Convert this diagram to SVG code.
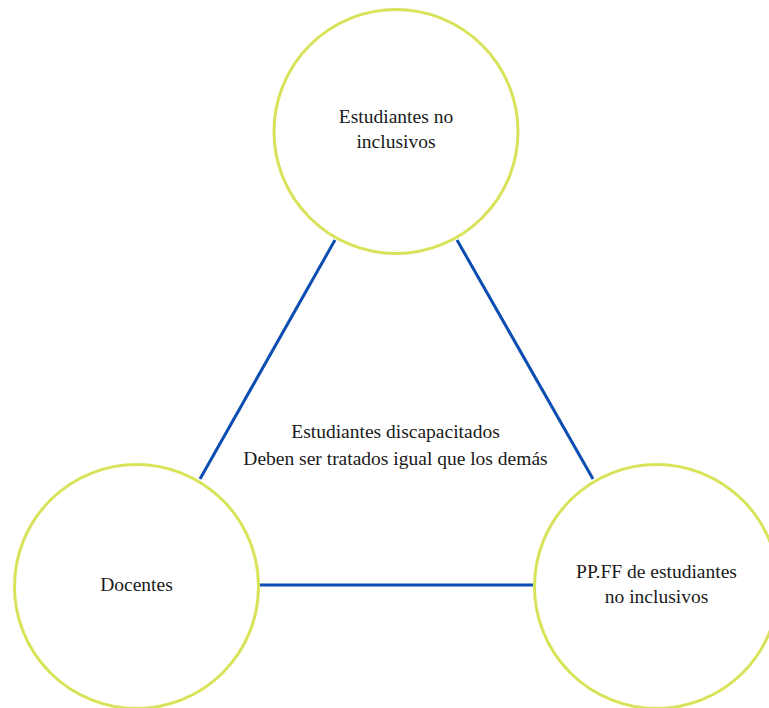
<svg xmlns="http://www.w3.org/2000/svg" width="769" height="708" viewBox="0 0 769 708">
<style>
.node circle{fill:#ffffff;stroke:#d8e35a;stroke-width:3}
.lbl{font-family:"Liberation Serif","Times New Roman",serif;font-size:19.5px;fill:#1a1a1a;text-anchor:middle}
.conn line{stroke:#0b4db0;stroke-width:3}
</style>
<rect width="769" height="708" fill="#ffffff"/>
<g class="conn" id="connectors">
<line x1="335" y1="240" x2="200" y2="479"/>
<line x1="457" y1="240" x2="593" y2="479"/>
<line x1="259" y1="585" x2="533" y2="585"/>
</g>
<g class="node" id="n-top">
<circle cx="396" cy="131.5" r="122"/>
<text class="lbl" x="396" y="123">Estudiantes no</text>
<text class="lbl" x="396" y="148">inclusivos</text>
</g>
<g class="node" id="n-left">
<circle cx="136.5" cy="586.5" r="122"/>
<text class="lbl" x="136.5" y="591">Docentes</text>
</g>
<g class="node" id="n-right">
<circle cx="656.5" cy="586.5" r="122"/>
<text class="lbl" x="656.5" y="578">PP.FF de estudiantes</text>
<text class="lbl" x="656.5" y="603">no inclusivos</text>
</g>
<g id="center-label">
<text class="lbl" x="395.5" y="438">Estudiantes discapacitados</text>
<text class="lbl" x="395.5" y="465">Deben ser tratados igual que los demás</text>
</g>
</svg>
